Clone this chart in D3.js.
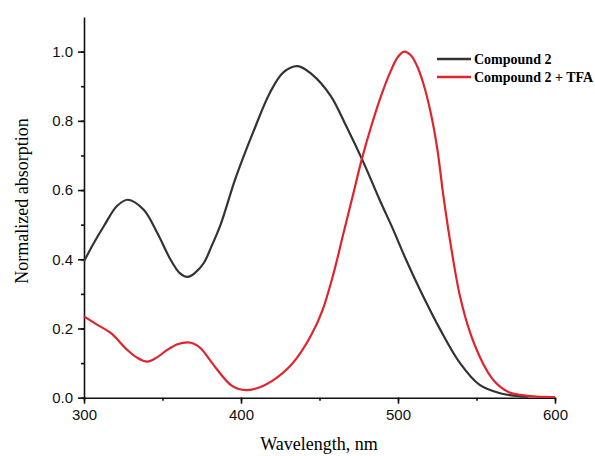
<!DOCTYPE html>
<html lang="en">
<head>
    <meta charset="UTF-8">
    <title>Absorption</title>
    <script src="https://d3js.org/d3.v7.min.js"></script>
    <style>
        body { margin: 0; background: #fff; }
        .tick text { font-family: "Liberation Sans", Arial, sans-serif; font-size: 15px; fill: #111; }
        .axis path, .axis line { stroke: #111; stroke-width: 1.6; }
    </style>
</head>
<body>
<script>

    // wavelength (nm) / normalized absorption
    var cmpWl  = [300, 306, 312.7, 321, 328, 338, 346.7, 355, 361, 366, 371, 376.4, 381, 387, 396.6, 408, 418.5, 427, 436, 445, 457, 467, 478, 488, 497, 505, 514, 527, 539.5, 552, 565, 578, 583];
    var cmpAbs = [0.394, 0.445, 0.496, 0.554, 0.572, 0.543, 0.476, 0.40, 0.36, 0.349, 0.362, 0.39, 0.435, 0.50, 0.635, 0.77, 0.882, 0.94, 0.958, 0.935, 0.873, 0.785, 0.68, 0.575, 0.485, 0.40, 0.312, 0.196, 0.10, 0.037, 0.013, 0.004, 0.003];

    var tfaWl  = [300, 308, 317, 327.6, 334, 340.3, 346, 353, 360, 366, 370, 374.3, 380, 385, 393.4, 398, 404, 412, 422, 431, 438, 445, 452, 459, 465, 471, 477, 483, 488.5, 495, 500, 504, 508, 512, 516, 521, 525, 529, 534, 539.5, 546, 554, 560, 565, 571, 578, 588, 600];
    var tfaAbs = [0.235, 0.212, 0.187, 0.138, 0.115, 0.104, 0.115, 0.138, 0.155, 0.16, 0.156, 0.143, 0.11, 0.08, 0.037, 0.026, 0.022, 0.030, 0.055, 0.09, 0.13, 0.183, 0.254, 0.36, 0.47, 0.58, 0.69, 0.785, 0.863, 0.94, 0.985, 1.0, 0.99, 0.96, 0.91, 0.82, 0.72, 0.58, 0.43, 0.293, 0.187, 0.10, 0.055, 0.032, 0.015, 0.008, 0.003, 0.002];

    var xTicks = [300, 400, 500, 600];
    var yTicks = [0.0, 0.2, 0.4, 0.6, 0.8, 1.0];
    var seriesNames = ["Compound 2", "Compound 2 + TFA"];
    var seriesColors = ["#333333", "#e0242c"];

    var width = 595, height = 456;
    var plotLeft = 84, plotRight = 555, plotTop = 17, plotBottom = 397.7;

    var svg = d3.select("body").append("svg")
        .attr("width", width)
        .attr("height", height);

    var x = d3.scaleLinear().domain([300, 600]).range([plotLeft, plotRight]);
    var y = d3.scaleLinear().domain([0, 1.1]).range([plotBottom, plotTop]);

    // x axis (minor + major ticks)
    svg.append("g")
        .attr("class", "axis")
        .attr("transform", "translate(0," + plotBottom + ")")
        .call(d3.axisBottom(x).tickValues(d3.range(300, 601, 50)).tickSize(3).tickFormat(""))
        .call(function (g) { g.select(".domain").remove(); });
    svg.append("g")
        .attr("class", "axis")
        .attr("transform", "translate(0," + plotBottom + ")")
        .call(d3.axisBottom(x).tickValues(xTicks).tickSize(6).tickSizeOuter(0).tickPadding(6)
            .tickFormat(d3.format("d")));

    // y axis
    svg.append("g")
        .attr("class", "axis")
        .attr("transform", "translate(" + plotLeft + ",0)")
        .call(d3.axisLeft(y).tickValues(d3.range(0, 1.05, 0.1)).tickSize(3).tickFormat(""))
        .call(function (g) { g.select(".domain").remove(); });
    svg.append("g")
        .attr("class", "axis")
        .attr("transform", "translate(" + plotLeft + ",0)")
        .call(d3.axisLeft(y).tickValues(yTicks).tickSize(6).tickSizeOuter(0).tickPadding(5)
            .tickFormat(d3.format(".1f")));

    var line = d3.line()
        .x(function (d) { return x(d[0]); })
        .y(function (d) { return y(d[1]); })
        .curve(d3.curveCatmullRom.alpha(0.5));

    var series = [d3.zip(cmpWl, cmpAbs), d3.zip(tfaWl, tfaAbs)];

    svg.selectAll("path.curve")
        .data(series)
        .enter()
        .append("path")
        .attr("class", "curve")
        .attr("fill", "none")
        .attr("stroke", function (d, i) { return seriesColors[i]; })
        .attr("stroke-width", 2.2)
        .attr("stroke-linejoin", "round")
        .attr("d", line);

    // axis titles
    svg.append("text")
        .attr("x", 319)
        .attr("y", 450)
        .attr("text-anchor", "middle")
        .style("font-family", "'Liberation Serif', 'Times New Roman', serif")
        .style("font-size", "18px")
        .text("Wavelength, nm");

    svg.append("text")
        .attr("transform", "translate(28,201) rotate(-90)")
        .attr("text-anchor", "middle")
        .style("font-family", "'Liberation Serif', 'Times New Roman', serif")
        .style("font-size", "18px")
        .text("Normalized absorption");

    // legend
    var legend = svg.selectAll("g.legend")
        .data(seriesNames)
        .enter()
        .append("g")
        .attr("class", "legend")
        .attr("transform", function (d, i) { return "translate(437," + (59 + i * 18) + ")"; });

    legend.append("line")
        .attr("x1", 0).attr("x2", 34)
        .attr("stroke", function (d, i) { return seriesColors[i]; })
        .attr("stroke-width", 2.5);

    legend.append("text")
        .attr("x", 37)
        .attr("dy", "0.33em")
        .style("font-family", "'Liberation Serif', 'Times New Roman', serif")
        .style("font-weight", "bold")
        .style("font-size", "14px")
        .text(function (d) { return d; });

</script>
</body>
</html>
